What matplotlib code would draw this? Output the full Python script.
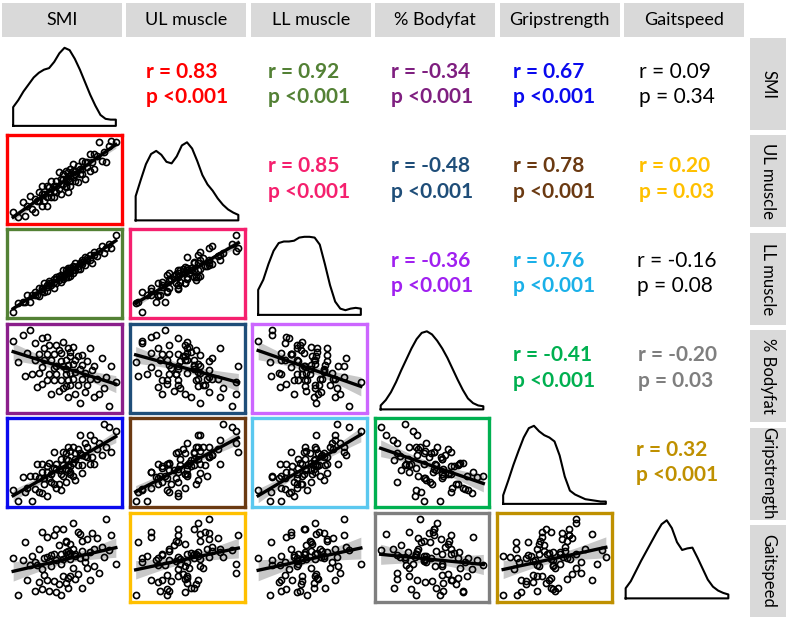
import numpy as np
import matplotlib
matplotlib.use("Agg")
import matplotlib.pyplot as plt

plt.rcParams['font.family'] = ['Lato', 'DejaVu Sans']

names = ["SMI", "UL muscle", "LL muscle", "% Bodyfat", "Gripstrength", "Gaitspeed"]

# subject values (one entry per subject)
smi = [5.1, 5.3, 5.5, 5.6, 5.7, 5.8, 5.9, 6.0, 6.0, 6.1, 6.2, 6.2, 6.3, 6.3, 6.3, 6.4,
       6.4, 6.5, 6.5, 6.5, 6.6, 6.6, 6.7, 6.7, 6.8, 6.8, 6.8, 6.9, 6.9, 6.9, 7.0, 7.0,
       7.1, 7.1, 7.1, 7.2, 7.2, 7.2, 7.3, 7.3, 7.3, 7.3, 7.4, 7.4, 7.4, 7.4, 7.5, 7.5,
       7.5, 7.5, 7.6, 7.6, 7.6, 7.7, 7.7, 7.7, 7.8, 7.8, 7.9, 7.9, 8.0, 8.0, 8.0, 8.1,
       8.1, 8.2, 8.2, 8.3, 8.3, 8.4, 8.5, 8.5, 8.6, 8.7, 8.8, 8.9, 9.0, 9.1, 9.2, 9.4]
ul_muscle = [3.4, 3.1, 4.0, 3.2, 3.8, 4.4, 3.6, 4.2, 3.4, 4.1, 4.6, 4.1, 5.0, 3.8, 4.5, 4.1,
             4.5, 5.0, 4.3, 3.8, 4.9, 4.6, 4.3, 5.3, 5.0, 4.7, 4.3, 5.3, 5.0, 4.6, 5.8, 4.8,
             5.1, 5.4, 4.5, 5.7, 5.1, 5.4, 4.9, 5.4, 5.9, 5.0, 5.4, 5.8, 4.6, 5.6, 5.3, 6.0,
             5.6, 5.0, 5.9, 5.5, 6.3, 5.3, 5.7, 5.9, 5.2, 6.2, 5.7, 6.0, 5.7, 6.5, 6.0, 5.4,
             6.4, 6.4, 6.1, 6.9, 5.9, 6.4, 6.9, 6.0, 6.8, 7.6, 6.5, 7.0, 6.4, 7.4, 7.7, 7.6]
ll_muscle = [9.8, 10.9, 11.1, 11.0, 12.0, 11.1, 12.0, 12.0, 12.4, 11.9, 12.9, 11.8, 12.7, 12.9, 12.5, 13.5,
             12.4, 13.2, 13.0, 12.5, 13.5, 13.8, 13.2, 13.5, 12.9, 14.0, 13.6, 13.5, 14.3, 14.0, 13.9, 14.4,
             13.6, 14.2, 14.5, 14.2, 15.2, 14.0, 14.7, 15.1, 14.3, 14.8, 15.4, 14.3, 14.8, 15.1, 14.9, 14.4,
             15.4, 15.2, 15.2, 14.8, 15.7, 15.5, 15.2, 16.1, 15.3, 15.6, 16.1, 15.3, 16.2, 15.9, 16.4, 16.8,
             15.8, 16.4, 16.7, 16.4, 17.1, 16.1, 17.1, 17.4, 16.9, 17.6, 18.2, 17.3, 18.0, 18.5, 18.0, 19.6]
bodyfat = [44.7, 36.1, 47.5, 30.2, 39.9, 49.6, 31.3, 37.0, 44.0, 25.7, 39.4, 31.4, 46.1, 34.1, 27.1, 41.8,
           36.8, 28.5, 39.5, 46.5, 31.2, 43.2, 22.9, 36.9, 39.6, 33.6, 28.6, 43.3, 34.3, 31.3, 41.0, 24.0,
           36.7, 39.7, 28.7, 34.4, 25.4, 44.4, 31.1, 37.1, 26.1, 33.1, 41.8, 28.8, 34.8, 21.8, 38.5, 31.5,
           40.5, 26.5, 35.2, 42.2, 29.2, 22.9, 36.9, 31.9, 38.6, 26.6, 33.3, 19.3, 35.0, 29.0, 39.0, 31.7,
           23.7, 36.4, 26.4, 42.1, 29.1, 32.8, 21.5, 34.5, 29.2, 22.9, 37.6, 25.3, 30.0, 17.7, 34.4, 27.8]
grip = [15.5, 11.5, 20.5, 15.0, 16.5, 21.0, 11.5, 21.0, 16.0, 25.5, 15.0, 20.0, 14.5, 22.5, 25.5, 18.0,
        20.0, 13.5, 24.5, 22.5, 20.0, 26.0, 18.5, 21.5, 30.0, 18.0, 24.0, 16.5, 23.5, 25.5, 18.0, 23.0,
        27.5, 21.5, 15.5, 30.0, 25.0, 21.0, 29.5, 23.5, 27.5, 18.5, 25.0, 32.0, 23.0, 27.0, 21.5, 30.5,
        24.5, 22.5, 32.0, 26.0, 21.0, 29.5, 27.5, 19.5, 31.0, 25.0, 29.5, 36.5, 25.0, 29.0, 22.0, 33.5,
        28.5, 28.0, 32.0, 25.5, 36.5, 28.0, 34.5, 25.5, 31.0, 33.5, 29.0, 40.5, 32.0, 39.5, 30.0, 38.0]
gait = [1.14, 0.78, 1.12, 1.29, 0.93, 1.07, 1.16, 0.82, 1.10, 1.07, 1.23, 0.91, 1.03, 1.39, 0.84, 1.14,
        0.98, 1.15, 0.93, 1.34, 1.11, 0.82, 1.17, 1.06, 1.36, 0.92, 1.18, 0.81, 1.42, 1.12, 0.89, 1.27,
        1.08, 1.18, 0.78, 1.42, 1.13, 0.97, 1.30, 0.90, 1.20, 1.29, 0.95, 1.18, 1.21, 0.85, 1.28, 1.13,
        1.19, 0.97, 1.48, 1.04, 1.23, 0.94, 1.18, 1.16, 0.99, 1.39, 1.14, 1.37, 0.85, 1.21, 1.30, 1.10,
        1.15, 1.32, 1.04, 1.20, 0.93, 1.38, 1.23, 1.06, 1.33, 1.00, 1.25, 1.15, 1.52, 1.22, 1.36, 1.08]
variables = [smi, ul_muscle, ll_muscle, bodyfat, grip, gait]

# density curves (21 points across each variable's range)
dens_smi = [0.24, 0.33, 0.44, 0.53, 0.62, 0.68, 0.72, 0.74, 0.82, 0.93, 1.0,
            0.97, 0.86, 0.72, 0.56, 0.40, 0.26, 0.14, 0.09, 0.08, 0.08]
dens_ul = [0.31, 0.52, 0.72, 0.85, 0.89, 0.84, 0.75, 0.73, 0.82, 0.96, 1.0,
           0.92, 0.76, 0.58, 0.46, 0.38, 0.28, 0.20, 0.14, 0.10, 0.07]
dens_ll = [0.32, 0.45, 0.65, 0.82, 0.92, 0.94, 0.94, 0.95, 0.99, 1.0, 1.0,
           0.99, 0.90, 0.65, 0.38, 0.17, 0.08, 0.06, 0.08, 0.09, 0.08]
dens_bodyfat = [0.05, 0.12, 0.22, 0.35, 0.50, 0.64, 0.78, 0.90, 0.98, 1.0, 0.96,
                0.88, 0.78, 0.66, 0.52, 0.38, 0.25, 0.14, 0.08, 0.05, 0.04]
dens_grip = [0.11, 0.30, 0.50, 0.68, 0.85, 0.97, 1.0, 0.93, 0.88, 0.85, 0.80,
             0.62, 0.35, 0.17, 0.12, 0.09, 0.06, 0.05, 0.04, 0.03, 0.03]
dens_gait = [0.13, 0.22, 0.35, 0.48, 0.60, 0.72, 0.84, 0.95, 1.0, 0.90, 0.72,
             0.62, 0.64, 0.65, 0.52, 0.38, 0.24, 0.15, 0.10, 0.07, 0.05]
densities = [dens_smi, dens_ul, dens_ll, dens_bodyfat, dens_grip, dens_gait]

# correlation labels (row, col) in the upper triangle
r_labels = {(0, 1): "0.83", (0, 2): "0.92", (0, 3): "-0.34", (0, 4): "0.67", (0, 5): "0.09",
            (1, 2): "0.85", (1, 3): "-0.48", (1, 4): "0.78", (1, 5): "0.20",
            (2, 3): "-0.36", (2, 4): "0.76", (2, 5): "-0.16",
            (3, 4): "-0.41", (3, 5): "-0.20",
            (4, 5): "0.32"}
p_labels = {(0, 1): "<0.001", (0, 2): "<0.001", (0, 3): "<0.001", (0, 4): "<0.001", (0, 5): "= 0.34",
            (1, 2): "<0.001", (1, 3): "<0.001", (1, 4): "<0.001", (1, 5): "= 0.03",
            (2, 3): "<0.001", (2, 4): "<0.001", (2, 5): "= 0.08",
            (3, 4): "<0.001", (3, 5): "= 0.03",
            (4, 5): "<0.001"}
text_colors = {(0, 1): "#ff0000", (0, 2): "#538135", (0, 3): "#7f1f80", (0, 4): "#0a0aee",
               (0, 5): "black", (1, 2): "#f5206e", (1, 3): "#1f4e79", (1, 4): "#6b3a12",
               (1, 5): "#ffc000", (2, 3): "#a020f0", (2, 4): "#1ab0e8", (2, 5): "black",
               (3, 4): "#00b050", (3, 5): "#7f7f7f", (4, 5): "#bf9000"}
frame_colors = {(0, 3): "#8b1f8b", (0, 4): "#0a0aee", (2, 3): "#cc66ff", (2, 4): "#5bc8ef"}
not_bold = [(0, 5), (2, 5)]

W, H = 787, 620
fig = plt.figure(figsize=(W / 100, H / 100), dpi=100)


def px(x, y, w, h):
    return [x / W, 1 - (y + h) / H, w / W, h / H]


def cell(i, j):
    return 7 + 122.5 * j, 40 + 94.5 * i, 115, 89


# header boxes
for j, name in enumerate(names):
    ax = fig.add_axes(px(2 + 124.4 * j, 3, 120, 34))
    ax.set_facecolor("#d9d9d9")
    ax.set_xticks([]); ax.set_yticks([])
    for s in ax.spines.values():
        s.set_visible(False)
    ax.text(0.5, 0.5, name, ha="center", va="center", fontsize=13, transform=ax.transAxes)

    ax = fig.add_axes(px(750, 38 + 97.4 * j, 36, 92))
    ax.set_facecolor("#d9d9d9")
    ax.set_xticks([]); ax.set_yticks([])
    for s in ax.spines.values():
        s.set_visible(False)
    ax.text(0.5, 0.5, name, ha="center", va="center", fontsize=12, rotation=270,
            transform=ax.transAxes)

for i in range(6):
    for j in range(6):
        x0, y0, w, h = cell(i, j)
        if i == j:
            ax = fig.add_axes(px(x0, y0, w, h))
            d = np.array(densities[i])
            t = np.linspace(0, 1, len(d))
            xs = np.concatenate([[0], t, [1], [0]])
            ys = np.concatenate([[0], d, [0], [0]])
            ax.plot(xs, ys, color="black", lw=1.5)
            ax.set_xlim(-0.06, 1.06)
            ax.set_ylim(-0.04, 1.1)
            ax.axis("off")
        elif i < j:
            key = (i, j)
            weight = "normal" if key in not_bold else "bold"
            fig.text((x0 + w / 2) / W, 1 - (y0 + h / 2) / H,
                     "r = " + r_labels[key] + "\np " + p_labels[key],
                     ha="center", va="center", ma="left", fontsize=15,
                     fontweight=weight, color=text_colors[key], linespacing=1.35)
        else:
            key = (j, i)
            ax = fig.add_axes(px(x0, y0, w, h))
            xv = np.array(variables[j]); yv = np.array(variables[i])
            ax.plot(xv, yv, "o", ms=4.4, mfc="none", mec="black", mew=1.2)
            b, a = np.polyfit(xv, yv, 1)
            xx = np.linspace(xv.min(), xv.max(), 50)
            n = len(xv)
            resid = yv - (a + b * xv)
            se = np.sqrt(np.sum(resid ** 2) / (n - 2))
            band = 1.99 * se * np.sqrt(1 / n + (xx - xv.mean()) ** 2 / np.sum((xv - xv.mean()) ** 2))
            ax.fill_between(xx, a + b * xx - band, a + b * xx + band, color="#c8c8c8", lw=0, zorder=0)
            ax.plot(xx, a + b * xx, color="black", lw=2.4)
            xr = xv.max() - xv.min(); yr = yv.max() - yv.min()
            ax.set_xlim(xv.min() - 0.06 * xr, xv.max() + 0.06 * xr)
            ax.set_ylim(yv.min() - 0.08 * yr, yv.max() + 0.08 * yr)
            ax.set_xticks([]); ax.set_yticks([])
            if text_colors[key] == "black":
                for s in ax.spines.values():
                    s.set_visible(False)
            else:
                for s in ax.spines.values():
                    s.set_color(frame_colors.get(key, text_colors[key]))
                    s.set_linewidth(2.4)

fig.savefig("out.png", dpi=100, facecolor="white")
